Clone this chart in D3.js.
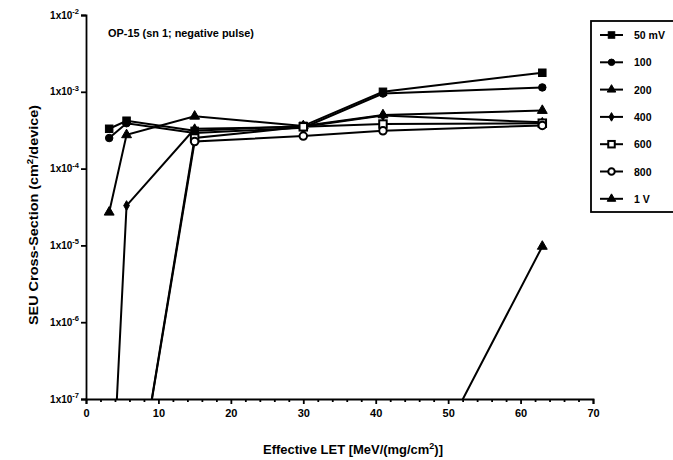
<!DOCTYPE html>
<html>
<head>
<meta charset="utf-8">
<script src="https://cdn.jsdelivr.net/npm/d3@7"></script>
<style>
  body { margin: 0; background: #fff; }
  text { font-family: "Liberation Sans", Arial, sans-serif; font-weight: bold; fill: #000; }
</style>
</head>
<body>
<svg id="chart" width="673" height="460"></svg>
<script>
// LET values (x) shared by all series
var letVals = [3.2, 5.6, 15, 30, 41, 63];
// zero counts are plotted at 1e-9 (off the bottom of the axis)
var mv50  = [3.3e-4, 4.2e-4, 3.1e-4, 3.6e-4, 1.0e-3, 1.77e-3];
var mv100 = [2.5e-4, 3.9e-4, 2.9e-4, 3.4e-4, 9.5e-4, 1.14e-3];
var mv200 = [2.7e-5, 2.75e-4, 4.8e-4, 3.6e-4, 5.0e-4, 5.7e-4];
var mv400 = [1e-9, 3.3e-5, 3.3e-4, 3.5e-4, 4.9e-4, 4.0e-4];
var mv600 = [1e-9, 1e-9, 2.5e-4, 3.5e-4, 3.8e-4, 3.9e-4];
var mv800 = [1e-9, 1e-9, 2.25e-4, 2.65e-4, 3.1e-4, 3.65e-4];
var v1    = [1e-9, 1e-9, 1e-9, 1e-9, 1e-9, 9.7e-6];

var seriesNames = ['50 mV', '100', '200', '400', '600', '800', '1 V'];
var seriesVals = [mv50, mv100, mv200, mv400, mv600, mv800, v1];
var markerKinds = ['square', 'circle', 'triangle', 'diamond', 'square', 'circle', 'triangle'];
var markerOpen = [false, false, false, false, true, true, false];

var xTicks = [0, 10, 20, 30, 40, 50, 60, 70];
var yTickExp = [-2, -3, -4, -5, -6, -7];

var svg = d3.select('#chart');
var x = d3.scaleLinear().domain([0, 70]).range([86, 593]);
var y = d3.scaleLog().domain([1e-7, 1e-2]).range([399, 15]);

svg.append('clipPath').attr('id', 'plotClip')
  .append('rect').attr('x', 80).attr('y', 8).attr('width', 520).attr('height', 391);

// axes
var xAxis = svg.append('g').attr('transform', 'translate(0,399)')
  .call(d3.axisBottom(x).tickValues(xTicks).tickSize(5).tickFormat(d3.format('d')));
var xMinor = svg.append('g').attr('transform', 'translate(0,399)')
  .call(d3.axisBottom(x).tickValues(d3.range(2, 70, 2).filter(function(d){ return d % 10 != 0; }))
    .tickSize(3).tickFormat(''));
xMinor.select('.domain').remove();

var yAxis = svg.append('g').attr('transform', 'translate(86,0)')
  .call(d3.axisLeft(y).tickValues(yTickExp.map(function(e){ return Math.pow(10, e); })).tickSize(5).tickFormat(''));

[xAxis, xMinor, yAxis].forEach(function(g){
  g.selectAll('path,line').attr('stroke', '#000').attr('stroke-width', 1.8);
});
xAxis.selectAll('text').attr('font-size', 11).attr('dy', '0.95em')
  .style('font-family', '"Liberation Sans", Arial, sans-serif').style('font-weight', 'bold');

// y tick labels 1x10^n
yTickExp.forEach(function(e){
  var t = svg.append('text').attr('x', 79).attr('y', y(Math.pow(10, e)) + 3.5)
    .attr('text-anchor', 'end').attr('font-size', 10);
  t.append('tspan').text('1x10');
  t.append('tspan').attr('dy', -4.5).attr('font-size', 7.5).text(String(e));
});

// lines
var line = d3.line().x(function(d){ return x(d[0]); }).y(function(d){ return y(d[1]); });
var plot = svg.append('g').attr('clip-path', 'url(#plotClip)');

function drawMarker(g, kind, open, cx, cy, s) {
  var fill = open ? '#fff' : '#000';
  var m;
  if (kind == 'square') {
    m = g.append('rect').attr('x', cx - s/2).attr('y', cy - s/2).attr('width', s).attr('height', s);
  } else if (kind == 'circle') {
    m = g.append('circle').attr('cx', cx).attr('cy', cy).attr('r', s/2);
  } else if (kind == 'triangle') {
    m = g.append('path').attr('d', d3.symbol(d3.symbolTriangle, s*s*0.75)()).attr('transform', 'translate(' + cx + ',' + cy + ')');
  } else {
    m = g.append('path').attr('d', d3.symbol(d3.symbolDiamond, s*s*0.5)()).attr('transform', 'translate(' + cx + ',' + cy + ')');
  }
  m.attr('fill', fill).attr('stroke', '#000').attr('stroke-width', open ? 2 : 1);
}

seriesVals.forEach(function(vals, i){
  var pts = letVals.map(function(lv, j){ return [lv, vals[j]]; });
  plot.append('path').datum(pts).attr('d', line)
    .attr('fill', 'none').attr('stroke', '#000').attr('stroke-width', 2);
});
seriesVals.forEach(function(vals, i){
  letVals.forEach(function(lv, j){
    if (vals[j] < 1e-7) return;
    drawMarker(plot, markerKinds[i], markerOpen[i], x(lv), y(vals[j]), 7.5);
  });
});

// annotation
svg.append('text').attr('x', 108).attr('y', 37).attr('font-size', 10.5)
  .attr('textLength', 146).attr('lengthAdjust', 'spacingAndGlyphs')
  .text('OP-15 (sn 1; negative pulse)');

// axis titles
var xt = svg.append('text').attr('x', 263).attr('y', 454).attr('font-size', 13)
  .attr('textLength', 180).attr('lengthAdjust', 'spacingAndGlyphs');
xt.append('tspan').text('Effective LET [MeV/(mg/cm');
xt.append('tspan').attr('dy', -5).attr('font-size', 9).text('2');
xt.append('tspan').attr('dy', 5).text(')]');

var yt = svg.append('text').attr('transform', 'translate(38,325) rotate(-90)')
  .attr('x', 0).attr('y', 0).attr('font-size', 12.5)
  .attr('textLength', 220).attr('lengthAdjust', 'spacingAndGlyphs');
yt.append('tspan').text('SEU Cross-Section (cm');
yt.append('tspan').attr('dy', -5).attr('font-size', 8.5).text('2');
yt.append('tspan').attr('dy', 5).text('/device)');

// legend
var leg = svg.append('g');
leg.append('rect').attr('x', 591).attr('y', 21).attr('width', 100).attr('height', 191)
  .attr('fill', '#fff').attr('stroke', '#000').attr('stroke-width', 1.8);
seriesNames.forEach(function(name, i){
  var ly = 35 + i * 27.3;
  leg.append('line').attr('x1', 600).attr('x2', 623).attr('y1', ly).attr('y2', ly)
    .attr('stroke', '#000').attr('stroke-width', 2);
  drawMarker(leg, markerKinds[i], markerOpen[i], 611.5, ly, 6.5);
  leg.append('text').attr('x', 634).attr('y', ly + 4).attr('font-size', 10.5).text(name);
});
</script>
</body>
</html>
